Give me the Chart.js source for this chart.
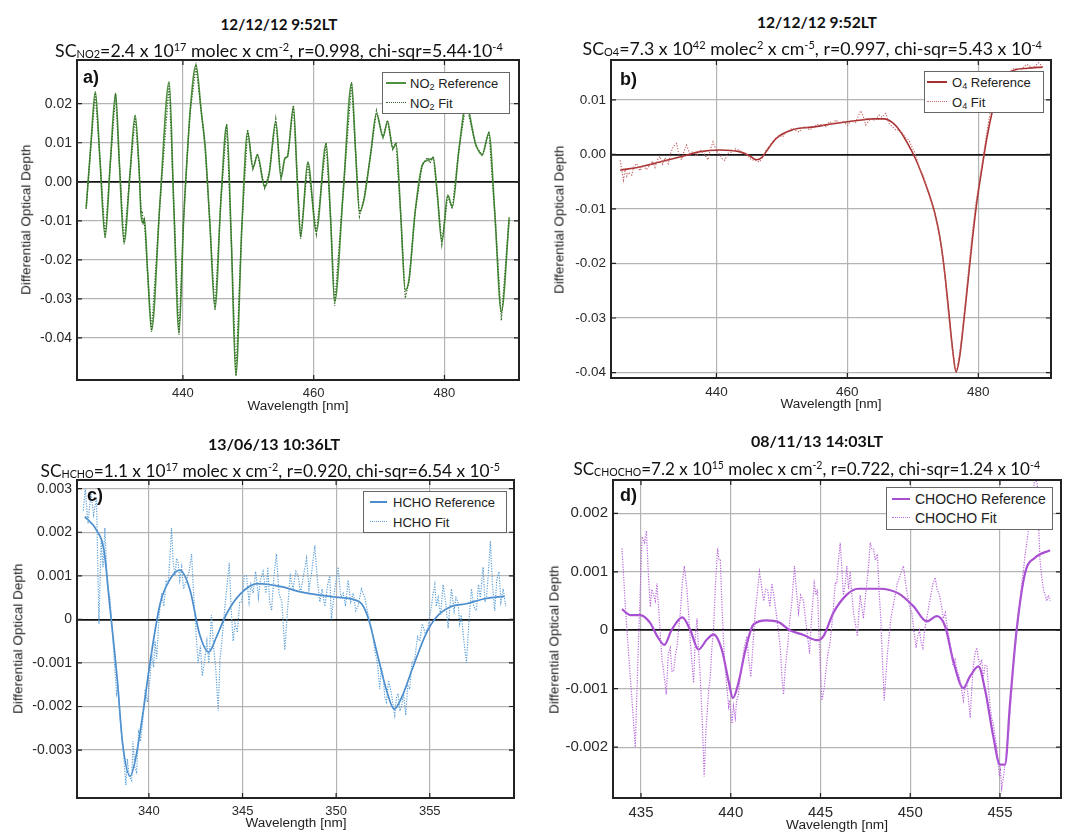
<!DOCTYPE html>
<html>
<head>
<meta charset="utf-8">
<script src="https://cdn.jsdelivr.net/npm/chart.js@4.4.1/dist/chart.umd.min.js"></script>
<style>
html,body{margin:0;padding:0;background:#fff;}
body{position:relative;width:1072px;height:832px;overflow:hidden;}
.t{position:absolute;white-space:nowrap;line-height:1;color:#111;font-family:Lato,"Open Sans",sans-serif;}
.date{font-weight:bold;}
.t sup,.t sub{font-size:0.62em;line-height:0;}
.t sup{vertical-align:0.55em;}
.t sub{vertical-align:-0.12em;}
.ax{position:absolute;white-space:nowrap;font-family:"Liberation Sans",Arial,sans-serif;color:#222;line-height:1;}
.lbl{position:absolute;font-family:"Liberation Sans",Arial,sans-serif;font-weight:bold;color:#111;line-height:1;}
.legend{position:absolute;background:#fff;border:1px solid #666;box-sizing:border-box;}
.legend .sw{position:absolute;height:0;}
.legend .tx{position:absolute;font-family:"Liberation Sans",Arial,sans-serif;color:#222;white-space:nowrap;line-height:1;transform:translateY(-50%);}
.legend .tx sub{font-size:0.7em;line-height:0;vertical-align:-0.25em;}
canvas{position:absolute;}
</style>
</head>
<body>
<script>
// ===================== DATA =====================
// Panel a) NO2
const no2XTicks = [440, 460, 480];
const no2YTicks = [-0.04, -0.03, -0.02, -0.01, 0, 0.01, 0.02];
const no2RefNm = [425.2,425.9,426.6,427.3,428.1,428.9,429.7,430.3,431.0,431.9,432.7,433.3,433.6,433.9,434.1,434.6,435.2,436.5,437.9,438.6,439.4,440.1,440.6,441.1,442.0,442.8,443.4,444.1,444.9,445.8,446.7,447.4,448.1,449.0,449.9,450.7,451.4,452.5,453.2,454.2,455.0,455.6,456.0,456.9,457.5,458.0,459.1,460.4,461.9,462.6,463.2,464.5,465.8,466.4,467.0,467.7,468.7,469.6,470.6,471.3,472.1,472.6,473.3,474.0,474.6,475.5,476.6,477.4,478.3,478.9,479.6,480.5,481.2,482.2,483.3,484.8,485.8,486.8,487.7,488.7,489.9];
const no2RefOd = [-0.0067,0.0090,0.0231,0.0060,-0.0141,0.0050,0.0227,0.0040,-0.0156,0.0020,0.0171,0.0030,-0.0085,-0.0105,-0.0095,-0.0230,-0.0380,-0.0050,0.0256,-0.0060,-0.0387,-0.0100,0.0050,0.0180,0.0299,0.0180,0.0090,-0.0100,-0.0324,-0.0050,0.0145,-0.0150,-0.0496,-0.0120,0.0128,0.0035,0.0069,-0.0013,0.0021,0.0155,0.0010,0.0060,0.0065,0.0192,0.0000,-0.0141,0.0051,-0.0128,0.0098,-0.0100,-0.0308,-0.0030,0.0252,0.0080,-0.0077,-0.0045,0.0070,0.0175,0.0115,0.0155,0.0085,0.0098,-0.0080,-0.0278,-0.0248,-0.0080,0.0042,0.0055,0.0060,-0.0030,-0.0154,-0.0034,-0.0064,0.0080,0.0197,0.0095,0.0070,0.0125,-0.0080,-0.0333,-0.0094];
const no2FitNm = [425.2,425.9,426.6,427.3,428.1,428.9,429.7,430.3,431.0,431.9,432.7,433.3,433.6,433.8,433.9,434.1,434.6,435.2,436.5,437.9,438.6,439.4,440.1,440.6,441.1,442.0,442.8,443.4,444.1,444.9,445.8,446.7,447.4,448.1,449.0,449.9,450.7,451.4,452.5,453.2,454.2,455.0,455.6,456.0,456.9,457.5,458.0,459.1,460.4,461.9,462.6,463.2,464.5,465.8,466.4,467.0,467.7,468.7,469.6,470.6,471.3,472.1,472.6,473.3,474.0,474.6,475.5,476.6,477.4,477.8,478.3,478.9,479.6,480.5,481.2,482.2,483.3,484.8,485.8,486.8,487.7,488.7,489.9];
const no2FitOd = [-0.0070,0.0088,0.0228,0.0062,-0.0145,0.0048,0.0225,0.0042,-0.0160,0.0018,0.0168,0.0034,-0.0080,-0.0075,-0.0110,-0.0098,-0.0235,-0.0385,-0.0052,0.0252,-0.0058,-0.0392,-0.0098,0.0052,0.0178,0.0296,0.0182,0.0088,-0.0102,-0.0330,-0.0048,0.0148,-0.0148,-0.0498,-0.0118,0.0134,0.0033,0.0072,-0.0016,0.0024,0.0160,0.0008,0.0062,0.0063,0.0196,0.0002,-0.0146,0.0049,-0.0133,0.0100,-0.0098,-0.0318,-0.0028,0.0255,0.0078,-0.0088,-0.0043,0.0068,0.0182,0.0113,0.0158,0.0083,0.0100,-0.0082,-0.0298,-0.0255,-0.0078,0.0044,0.0062,0.0048,0.0066,-0.0032,-0.0160,-0.0036,-0.0070,0.0082,0.0200,0.0093,0.0066,0.0130,-0.0082,-0.0355,-0.0090];

// Panel b) O4
const o4XTicks = [440, 460, 480];
const o4YTicks = [-0.04, -0.03, -0.02, -0.01, 0, 0.01];
const o4RefNm = [425.3,428.3,431.4,434.4,437.5,440.5,443.5,445.0,446.1,447.0,447.6,449.1,451.6,454.6,458.8,461.5,464.0,465.6,466.9,468.1,469.2,470.4,471.5,472.4,473.3,474.1,474.8,475.5,476.1,476.6,477.1,477.7,478.4,479.1,479.8,480.5,481.3,482.2,483.2,485.0,487.5,489.8];
const o4RefOd = [-0.0029,-0.0023,-0.0014,-0.0005,0.0005,0.0008,0.0005,-0.0002,-0.0010,-0.0005,0.0005,0.0029,0.0045,0.0050,0.0058,0.0062,0.0065,0.0065,0.0058,0.0042,0.0020,-0.0008,-0.0040,-0.0070,-0.0105,-0.0150,-0.0210,-0.0290,-0.0360,-0.0399,-0.0375,-0.0315,-0.0235,-0.0155,-0.0085,-0.0030,0.0030,0.0082,0.0125,0.0152,0.0158,0.0160];
const o4FitNm = [425.3,425.55,425.8,426.05,426.31,426.6,427.07,427.4,427.83,428.3,428.84,429.3,429.86,430.2,430.62,431.0,431.38,431.8,432.14,432.64,433.0,433.4,433.92,434.3,434.68,435.0,435.44,435.9,436.44,436.9,437.46,438.1,438.72,439.1,439.48,440.0,440.5,440.9,441.26,441.8,442.28,442.9,443.54,444.0,444.56,445.1,445.57,446.1,446.59,447.1,447.6,448.1,448.61,449.1,449.63,450.1,450.65,451.1,451.65,452.2,452.67,453.2,453.69,454.2,454.69,455.4,456.21,456.8,457.23,457.8,458.25,458.8,459.4,460.0,460.6,461.2,462.05,462.4,462.81,463.2,463.57,464.2,464.84,465.3,465.86,466.36,466.9,467.38,467.9,468.38,468.9,469.4,470.0,470.4,471.0,471.6,472.4,473.2,474.0,474.6,475.0,475.5,476.0,476.5,476.8,477.2,477.6,478.1,478.6,479.1,479.6,480.2,480.8,481.4,482.0,482.8,483.6,484.5,485.5,486.5,487.4,488.3,489.2,489.9];
const o4FitOd = [-0.0011,-0.0030,-0.0047,-0.0028,-0.0040,-0.0033,-0.0038,-0.0022,-0.0017,-0.0030,-0.0020,-0.0028,-0.0020,-0.0012,-0.0024,-0.0010,-0.0004,-0.0018,-0.0006,-0.0017,0.0002,0.0014,0.0020,-0.0002,-0.0010,0.0004,0.0017,0.0002,0.0005,-0.0003,0.0008,0.0002,-0.0010,0.0010,0.0023,0.0006,0.0000,-0.0008,-0.0011,0.0002,0.0004,0.0010,0.0008,0.0002,0.0002,-0.0008,-0.0010,-0.0012,-0.0014,-0.0004,0.0008,0.0015,0.0023,0.0030,0.0035,0.0032,0.0041,0.0044,0.0048,0.0043,0.0041,0.0050,0.0051,0.0045,0.0048,0.0055,0.0054,0.0050,0.0060,0.0057,0.0063,0.0056,0.0060,0.0053,0.0062,0.0058,0.0080,0.0070,0.0054,0.0060,0.0066,0.0062,0.0072,0.0068,0.0075,0.0057,0.0050,0.0045,0.0044,0.0039,0.0030,0.0026,0.0010,0.0000,-0.0025,-0.0040,-0.0072,-0.0102,-0.0145,-0.0190,-0.0235,-0.0300,-0.0355,-0.0395,-0.0390,-0.0360,-0.0320,-0.0262,-0.0200,-0.0142,-0.0092,-0.0045,0.0000,0.0048,0.0090,0.0125,0.0140,0.0150,0.0158,0.0155,0.0165,0.0158,0.0168,0.0160];

// Panel c) HCHO
const hchoXTicks = [340, 345, 350, 355];
const hchoYTicks = [-0.003, -0.002, -0.001, 0, 0.001, 0.002, 0.003];
const hchoRefNm = [336.58,337.2,337.6,337.9,338.3,338.6,339.0,339.3,339.7,340.05,340.6,341.1,341.65,342.2,342.7,343.2,343.6,344.15,344.9,345.8,347.2,348.1,350.0,351.26,351.7,352.24,352.7,353.1,353.5,354.1,354.8,355.35,356.06,356.95,358.0,359.0];
const hchoRefOd = [0.00236,0.00205,0.00159,0.00036,-0.00133,-0.00286,-0.00360,-0.00317,-0.00210,-0.00102,0.00036,0.00090,0.00113,0.00067,-0.00033,-0.00075,-0.00041,0.00013,0.00059,0.00082,0.00074,0.00063,0.00051,0.00040,0.00005,-0.00087,-0.00164,-0.00206,-0.00179,-0.00110,-0.00033,0.00005,0.00028,0.00036,0.00048,0.00053];
const hchoFitNm = [336.5,336.6,336.75,336.9,337.05,337.2,337.33,337.45,337.55,337.65,337.78,337.92,338.0,338.1,338.19,338.28,338.36,338.45,338.55,338.65,338.77,338.85,338.95,339.08,339.15,339.25,339.34,339.45,339.55,339.7,339.8,339.92,340.05,340.15,340.25,340.33,340.41,340.55,340.68,340.8,340.92,341.03,341.12,341.21,341.3,341.4,341.48,341.56,341.65,341.75,341.85,342.01,342.15,342.28,342.4,342.5,342.63,342.75,342.85,342.99,343.1,343.2,343.34,343.45,343.58,343.7,343.8,343.9,344.06,344.18,344.29,344.4,344.5,344.6,344.72,344.85,344.95,345.1,345.21,345.35,345.45,345.57,345.7,345.85,345.95,346.1,346.25,346.35,346.45,346.55,346.68,346.81,346.95,347.1,347.26,347.4,347.55,347.7,347.85,347.97,348.1,348.25,348.42,348.55,348.7,348.86,349.0,349.13,349.25,349.4,349.55,349.66,349.75,349.9,350.0,350.11,350.25,350.38,350.5,350.64,350.78,350.91,351.05,351.17,351.35,351.53,351.71,351.89,351.97,352.06,352.2,352.33,352.42,352.51,352.6,352.69,352.8,352.95,353.05,353.13,353.22,353.31,353.4,353.49,353.6,353.72,353.82,353.93,354.05,354.2,354.35,354.47,354.6,354.75,354.91,355.0,355.09,355.18,355.27,355.35,355.45,355.58,355.71,355.85,355.98,356.08,356.16,356.3,356.4,356.51,356.6,356.69,356.8,356.96,357.1,357.23,357.35,357.49,357.6,357.7,357.85,357.95,358.03,358.12,358.24,358.35,358.47,358.58,358.7,358.8,358.92,359.06];
const hchoFitOd = [0.0025,0.0030,0.0022,0.0029,0.0024,0.0028,-0.0001,0.0018,0.0012,0.0021,0.0008,0.0005,0.0000,-0.0006,-0.0012,-0.0017,-0.0015,-0.0022,-0.0027,-0.0031,-0.0038,-0.0032,-0.0036,-0.0037,-0.0028,-0.0034,-0.0035,-0.0026,-0.0028,-0.0022,-0.0016,-0.0019,-0.0014,-0.0008,-0.0011,-0.0005,-0.0009,0.0001,0.0006,0.0003,0.0009,0.0008,0.0014,0.0021,0.0013,0.0010,0.0014,0.0013,0.0009,0.0012,0.0007,0.0009,0.0011,0.0015,0.0005,-0.0002,-0.0010,-0.0006,-0.0013,-0.0009,-0.0005,-0.0010,0.0001,-0.0006,-0.0012,-0.0021,-0.0009,-0.0005,0.0003,0.0008,0.0013,0.0002,-0.0005,-0.0001,-0.0003,0.0004,0.0004,0.0010,0.0010,0.0004,0.0008,0.0006,0.0011,0.0005,0.0009,0.0011,0.0006,0.0012,0.0004,0.0002,0.0010,0.0015,0.0006,0.0004,-0.0007,0.0002,0.0010,0.0007,0.0011,0.0010,0.0006,0.0010,0.0014,0.0007,0.0011,0.0017,0.0009,0.0004,0.0007,0.0003,0.0008,0.0010,0.0000,0.0006,0.0009,0.0012,0.0005,0.0006,0.0003,0.0009,0.0004,0.0006,0.0002,0.0003,0.0007,0.0005,0.0001,-0.0002,-0.0004,-0.0007,-0.0010,-0.0016,-0.0011,-0.0013,-0.0018,-0.0019,-0.0014,-0.0017,-0.0020,-0.0022,-0.0018,-0.0017,-0.0021,-0.0020,-0.0017,-0.0022,-0.0015,-0.0016,-0.0010,-0.0009,-0.0004,-0.0005,-0.0001,-0.0003,-0.0002,0.0001,0.0003,0.0006,0.0008,0.0003,0.0005,0.0001,0.0008,0.0004,-0.0002,0.0003,0.0007,0.0002,0.0005,0.0004,-0.0001,0.0001,-0.0004,-0.0010,0.0000,0.0007,0.0003,0.0002,0.0008,0.0005,0.0012,0.0004,0.0005,0.0010,0.0018,0.0008,0.0002,0.0009,0.0011,0.0004,0.0007,0.0003];

// Panel d) CHOCHO
const chochoXTicks = [435, 440, 445, 450, 455];
const chochoYTicks = [-0.002, -0.001, 0, 0.001, 0.002];
const chochoRefNm = [433.94,434.4,434.96,435.5,435.9,436.3,436.7,437.3,437.75,438.2,438.67,439.04,439.5,439.9,440.12,440.43,440.8,441.27,442.0,442.66,443.3,444.05,444.8,445.17,445.72,446.47,447.1,448.3,449.34,450.18,450.92,451.48,451.94,452.4,452.96,453.33,453.8,454.17,454.63,455.0,455.28,455.56,455.93,456.4,456.95,457.79];
const chochoRefOd = [0.00036,0.00026,0.00026,0.00013,-0.00010,-0.00025,0.00000,0.00022,0.00000,-0.00033,-0.00016,-0.00007,-0.00033,-0.00090,-0.00116,-0.00090,-0.00036,0.00010,0.00017,0.00014,0.00000,-0.00008,-0.00017,-0.00010,0.00030,0.00061,0.00071,0.00071,0.00063,0.00041,0.00015,0.00024,0.00007,-0.00053,-0.00099,-0.00079,-0.00062,-0.00102,-0.00182,-0.00230,-0.00230,-0.00125,0.00001,0.00098,0.00124,0.00137];
const chochoFitNm = [433.94,434.13,434.31,434.5,434.68,434.87,435.06,435.2,435.3,435.42,435.52,435.6,435.7,435.8,435.89,436.04,436.17,436.3,436.41,436.52,436.63,436.72,436.82,436.92,437.0,437.19,437.3,437.41,437.56,437.65,437.75,437.85,437.93,438.03,438.12,438.2,438.3,438.42,438.52,438.62,438.71,438.78,438.86,438.95,439.04,439.15,439.27,439.35,439.42,439.5,439.6,439.7,439.79,439.88,439.93,440.0,440.07,440.15,440.25,440.33,440.43,440.52,440.62,440.75,440.9,441.0,441.12,441.25,441.36,441.5,441.6,441.7,441.83,441.95,442.05,442.18,442.29,442.4,442.53,442.65,442.76,442.85,442.94,443.05,443.16,443.3,443.41,443.55,443.65,443.78,443.9,444.05,444.2,444.39,444.5,444.65,444.75,444.83,444.95,445.08,445.2,445.3,445.42,445.54,445.7,445.82,445.91,446.0,446.1,446.28,446.38,446.47,446.56,446.65,446.75,446.84,446.95,447.06,447.14,447.21,447.3,447.39,447.48,447.58,447.68,447.77,447.85,447.95,448.05,448.17,448.26,448.36,448.45,448.55,448.64,448.73,448.82,448.92,449.04,449.16,449.28,449.4,449.5,449.62,449.74,449.85,449.97,450.09,450.2,450.33,450.42,450.51,450.6,450.7,450.8,450.92,451.03,451.15,451.27,451.39,451.5,451.63,451.75,451.85,451.95,452.04,452.15,452.26,452.38,452.5,452.62,452.74,452.85,452.96,453.05,453.15,453.25,453.34,453.43,453.52,453.61,453.71,453.8,453.89,453.98,454.08,454.17,454.27,454.36,454.45,454.54,454.63,454.72,454.82,454.9,454.97,455.03,455.1,455.2,455.28,455.38,455.47,455.56,455.66,455.75,455.84,455.93,456.02,456.12,456.21,456.3,456.4,456.5,456.58,456.68,456.77,456.86,456.95,457.08,457.15,457.23,457.33,457.42,457.52,457.6,457.7,457.79];
const chochoFitOd = [0.0014,0.0004,-0.0004,-0.0012,-0.0020,-0.0001,0.0016,0.0015,0.0017,0.0009,0.0004,0.0007,0.0006,0.0005,0.0008,0.0001,-0.0005,-0.0008,-0.0011,-0.0004,-0.0003,-0.0007,-0.0007,-0.0004,-0.0003,0.0003,0.0008,0.0011,0.0007,0.0003,-0.0002,-0.0006,-0.0009,-0.0001,0.0002,-0.0003,-0.0008,-0.0016,-0.0025,-0.0017,-0.0013,-0.0010,-0.0008,-0.0003,0.0000,0.0008,0.0014,0.0012,0.0012,0.0005,-0.0002,-0.0007,-0.0010,-0.0013,-0.0012,-0.0014,-0.0016,-0.0013,-0.0015,-0.0012,-0.0011,-0.0008,-0.0006,-0.0003,-0.0001,-0.0005,-0.0008,-0.0002,0.0003,0.0007,0.0010,0.0008,0.0005,0.0007,0.0007,0.0004,0.0008,0.0006,0.0003,0.0000,-0.0003,-0.0008,-0.0011,-0.0006,-0.0003,0.0002,0.0005,0.0011,0.0007,0.0003,0.0006,0.0005,0.0001,-0.0004,0.0002,0.0008,0.0006,0.0007,-0.0004,-0.0012,-0.0010,-0.0007,-0.0004,-0.0002,0.0003,0.0008,0.0008,0.0012,0.0015,0.0006,0.0008,0.0011,0.0007,0.0010,0.0006,0.0003,0.0001,-0.0001,0.0003,0.0006,0.0004,0.0002,0.0005,0.0008,0.0011,0.0015,0.0014,0.0014,0.0012,0.0013,0.0007,0.0002,-0.0005,-0.0012,-0.0008,-0.0004,-0.0001,0.0002,0.0004,0.0006,0.0008,0.0009,0.0010,0.0011,0.0008,0.0006,0.0004,0.0003,0.0000,-0.0003,-0.0001,0.0000,-0.0002,-0.0003,0.0000,0.0002,0.0004,0.0006,0.0008,0.0009,0.0007,0.0006,0.0004,0.0002,0.0003,0.0001,-0.0001,-0.0003,-0.0006,-0.0005,-0.0007,-0.0008,-0.0010,-0.0012,-0.0010,-0.0009,-0.0012,-0.0015,-0.0010,-0.0006,-0.0004,-0.0003,-0.0005,-0.0006,-0.0005,-0.0008,-0.0006,-0.0006,-0.0010,-0.0013,-0.0015,-0.0016,-0.0018,-0.0020,-0.0023,-0.0025,-0.0024,-0.0027,-0.0025,-0.0023,-0.0020,-0.0018,-0.0014,-0.0010,-0.0006,-0.0003,0.0000,0.0002,0.0005,0.0008,0.0010,0.0013,0.0015,0.0017,0.0020,0.0023,0.0024,0.0026,0.0025,0.0018,0.0012,0.0009,0.0007,0.0006,0.0005,0.0006,0.0005];

// ===================== LAYOUT / STYLE =====================
const AXFONT = '"Liberation Sans", Arial, sans-serif';
const YW = 70, XH = 30;

const panels = [
  { plot:{L:77,T:60,R:519,B:380}, xMin:423.8, xMax:491.4, yMin:-0.0508, yMax:0.0312,
    xTicks:no2XTicks, yTicks:no2YTicks, yDigits:2, xFont:13, yFont:14,
    fit:{nm:no2FitNm, od:no2FitOd, color:'#2d6621', width:1.3, dash:[1.2,1.6]},
    ref:{nm:no2RefNm, od:no2RefOd, color:'#4f9140', width:1.6},
    date:{text:'12/12/12 9:52LT', cx:279, base:30, w:117},
    sub:{html:'SC<sub>NO2</sub>=2.4 x 10<sup>17</sup> molec x cm<sup>-2</sup>, r=0.998, chi-sqr=5.44·10<sup>-4</sup>', cx:279, base:58, w:448},
    yTitle:{cx:26, cy:220, w:150}, xTitle:{cx:298, cy:406, w:101},
    label:{text:'a)', x:83, y:68, size:18},
    legend:{x:382,y:72,w:128,h:42, r1:11, r2:31, swX:4, swW:20, txX:28, fs:13,
            t1:'NO<sub>2</sub> Reference', t2:'NO<sub>2</sub> Fit'} },
  { plot:{L:611,T:60,R:1051,B:378}, xMin:423.9, xMax:491.1, yMin:-0.041, yMax:0.0173,
    xTicks:o4XTicks, yTicks:o4YTicks, yDigits:2, xFont:13.5, yFont:13.5,
    fit:{nm:o4FitNm, od:o4FitOd, color:'#c46a6a', width:1.2, dash:[1.2,1.6]},
    ref:{nm:o4RefNm, od:o4RefOd, color:'#a83030', width:1.6},
    date:{text:'12/12/12 9:52LT', cx:817, base:28.5, w:120},
    sub:{html:'SC<sub>O4</sub>=7.3 x 10<sup>42</sup> molec<sup>2</sup> x cm<sup>-5</sup>, r=0.997, chi-sqr=5.43 x 10<sup>-4</sup>', cx:812, base:56, w:460},
    yTitle:{cx:559, cy:219, w:148}, xTitle:{cx:831, cy:404, w:101},
    label:{text:'b)', x:620, y:70, size:18},
    legend:{x:924,y:71,w:120,h:42, r1:11, r2:31, swX:3, swW:20, txX:28, fs:13,
            t1:'O<sub>4</sub> Reference', t2:'O<sub>4</sub> Fit'} },
  { plot:{L:77,T:480,R:514,B:798}, xMin:336.16, xMax:359.5, yMin:-0.0041, yMax:0.0032,
    xTicks:hchoXTicks, yTicks:hchoYTicks, yDigits:3, xFont:13, yFont:14,
    fit:{nm:hchoFitNm, od:hchoFitOd, color:'#5c9fd6', width:1.2, dash:[1.2,1.4]},
    ref:{nm:hchoRefNm, od:hchoRefOd, color:'#4a8ccc', width:1.7},
    date:{text:'13/06/13 10:36LT', cx:274, base:450, w:132},
    sub:{html:'SC<sub>HCHO</sub>=1.1 x 10<sup>17</sup> molec x cm<sup>-2</sup>, r=0.920, chi-sqr=6.54 x 10<sup>-5</sup>', cx:270, base:477.5, w:460},
    yTitle:{cx:18, cy:639, w:150}, xTitle:{cx:296, cy:823, w:101},
    label:{text:'c)', x:87, y:486, size:18},
    legend:{x:363,y:491,w:144,h:42, r1:11, r2:31, swX:7, swW:17, txX:30, fs:13,
            t1:'HCHO Reference', t2:'HCHO Fit'} },
  { plot:{L:613,T:480,R:1061,B:798}, xMin:433.44, xMax:458.4, yMin:-0.00287, yMax:0.00257,
    xTicks:chochoXTicks, yTicks:chochoYTicks, yDigits:3, xFont:15, yFont:15,
    fit:{nm:chochoFitNm, od:chochoFitOd, color:'#b866dc', width:1.2, dash:[1.2,1.4]},
    ref:{nm:chochoRefNm, od:chochoRefOd, color:'#a84ed0', width:2.2},
    date:{text:'08/11/13 14:03LT', cx:817, base:447, w:132},
    sub:{html:'SC<sub>CHOCHO</sub>=7.2 x 10<sup>15</sup> molec x cm<sup>-2</sup>, r=0.722, chi-sqr=1.24 x 10<sup>-4</sup>', cx:807, base:475, w:467},
    yTitle:{cx:554, cy:639, w:148}, xTitle:{cx:837, cy:825, w:102},
    label:{text:'d)', x:620, y:486, size:18},
    legend:{x:886,y:487,w:167,h:43, r1:12, r2:31, swX:6, swW:18, txX:29, fs:14,
            t1:'CHOCHO Reference', t2:'CHOCHO Fit'} }
];

const framePlugin = {
  id:'frame',
  afterDraw(chart){
    const {ctx, chartArea:a, scales} = chart;
    ctx.save();
    ctx.strokeStyle = '#222';
    ctx.lineWidth = 1.2;
    ctx.beginPath();
    scales.y.ticks.forEach(t => {
      const y = scales.y.getPixelForValue(t.value);
      ctx.moveTo(a.left, y); ctx.lineTo(a.left + 5, y);
      ctx.moveTo(a.right, y); ctx.lineTo(a.right - 5, y);
    });
    scales.x.ticks.forEach(t => {
      const x = scales.x.getPixelForValue(t.value);
      ctx.moveTo(x, a.bottom); ctx.lineTo(x, a.bottom - 5);
      ctx.moveTo(x, a.top); ctx.lineTo(x, a.top + 5);
    });
    ctx.stroke();
    ctx.lineWidth = 2;
    ctx.strokeRect(a.left, a.top, a.right - a.left, a.bottom - a.top);
    ctx.restore();
  }
};

function addText(cls, html, style){
  const d = document.createElement('div');
  d.className = cls;
  d.innerHTML = html;
  Object.assign(d.style, style);
  document.body.appendChild(d);
  return d;
}

function placeTitle(cls, html, cx, base, w, fs0){
  const el = addText('t ' + cls, html, {fontSize: fs0 + 'px', left: '0px', top: '0px'});
  const fs = fs0 * w / el.offsetWidth;
  el.style.fontSize = fs + 'px';
  el.style.left = (cx - el.offsetWidth / 2) + 'px';
  el.style.top = (base - 0.887 * fs) + 'px';
}

function placeCentered(html, cx, cy, w, rotate){
  const el = addText('ax', html, {fontSize: '13px', left: '0px', top: '0px'});
  const fs = 13 * w / el.offsetWidth;
  el.style.fontSize = fs + 'px';
  el.style.left = (cx - el.offsetWidth / 2) + 'px';
  el.style.top = (cy - el.offsetHeight / 2) + 'px';
  if (rotate) el.style.transform = 'rotate(-90deg)';
}

panels.forEach(p => {
  const {L, T, R, B} = p.plot;
  const cv = document.createElement('canvas');
  const W = (R - L) + YW + 2, H = (B - T) + 2 + XH;
  cv.width = W; cv.height = H;
  cv.style.left = (L - YW) + 'px';
  cv.style.top = (T - 2) + 'px';
  cv.style.width = W + 'px'; cv.style.height = H + 'px';
  document.body.appendChild(cv);

  const toPts = (nm, od) => nm.map((x, i) => ({x: x, y: od[i]}));

  new Chart(cv.getContext('2d'), {
    type: 'line',
    data: {
      datasets: [
        { data: toPts(p.fit.nm, p.fit.od), borderColor: p.fit.color, borderWidth: p.fit.width,
          borderDash: p.fit.dash, pointRadius: 0, tension: 0, fill: false },
        { data: toPts(p.ref.nm, p.ref.od), borderColor: p.ref.color, borderWidth: p.ref.width,
          pointRadius: 0, cubicInterpolationMode: 'monotone', fill: false }
      ]
    },
    options: {
      responsive: false, animation: false, events: [],
      layout: { padding: { top: 2, right: 2, left: 0, bottom: 0 } },
      plugins: { legend: { display: false }, tooltip: { enabled: false } },
      scales: {
        x: {
          type: 'linear', min: p.xMin, max: p.xMax,
          afterBuildTicks: s => { s.ticks = p.xTicks.map(v => ({value: v})); },
          afterFit: s => { s.height = XH; s.paddingLeft = 0; s.paddingRight = 0; },
          grid: { color: '#b4b4b4', lineWidth: 1.2, drawTicks: false },
          border: { display: false },
          ticks: { font: { family: AXFONT, size: p.xFont }, color: '#2a2a2a', padding: 6, maxRotation: 0,
                   autoSkip: false, callback: v => String(v) }
        },
        y: {
          type: 'linear', min: p.yMin, max: p.yMax,
          afterBuildTicks: s => { s.ticks = p.yTicks.map(v => ({value: v})); },
          afterFit: s => { s.width = YW; s.paddingTop = 0; s.paddingBottom = 0; },
          grid: {
            color: c => (c.tick && Math.abs(c.tick.value) < 1e-12) ? '#111' : '#b4b4b4',
            lineWidth: c => (c.tick && Math.abs(c.tick.value) < 1e-12) ? 1.7 : 1.2,
            drawTicks: false
          },
          border: { display: false },
          ticks: { font: { family: AXFONT, size: p.yFont }, color: '#2a2a2a', padding: 5, autoSkip: false,
                   callback: v => (p.yDigits === 3 && Math.abs(v) < 1e-12) ? '0' : Number(v).toFixed(p.yDigits) }
        }
      }
    },
    plugins: [framePlugin]
  });

  // titles
  placeTitle('date', p.date.text, p.date.cx, p.date.base, p.date.w, 16);
  placeTitle('sub', p.sub.html, p.sub.cx, p.sub.base, p.sub.w, 17);
  // axis titles
  placeCentered('Differential Optical Depth', p.yTitle.cx, p.yTitle.cy, p.yTitle.w, true);
  placeCentered('Wavelength [nm]', p.xTitle.cx, p.xTitle.cy, p.xTitle.w, false);
  // panel label
  addText('lbl', p.label.text, {left: p.label.x + 'px', top: p.label.y + 'px', fontSize: p.label.size + 'px'});
  // legend
  const lg = p.legend;
  const box = document.createElement('div');
  box.className = 'legend';
  Object.assign(box.style, {left: lg.x + 'px', top: lg.y + 'px', width: lg.w + 'px', height: lg.h + 'px'});
  const rows = [[lg.r1, lg.t1, 'solid', p.ref.color, 2], [lg.r2, lg.t2, 'dotted', p.fit.color, 1.5]];
  rows.forEach(r => {
    const sw = document.createElement('div');
    sw.className = 'sw';
    Object.assign(sw.style, {left: (lg.swX - 1) + 'px', top: (r[0] - 1 - r[4] / 2) + 'px', width: lg.swW + 'px',
      borderTop: r[4] + 'px ' + r[2] + ' ' + r[3]});
    box.appendChild(sw);
    const tx = document.createElement('div');
    tx.className = 'tx';
    tx.innerHTML = r[1];
    Object.assign(tx.style, {left: (lg.txX - 1) + 'px', top: (r[0] - 1) + 'px', fontSize: lg.fs + 'px'});
    box.appendChild(tx);
  });
  document.body.appendChild(box);
});
</script>
</body>
</html>
